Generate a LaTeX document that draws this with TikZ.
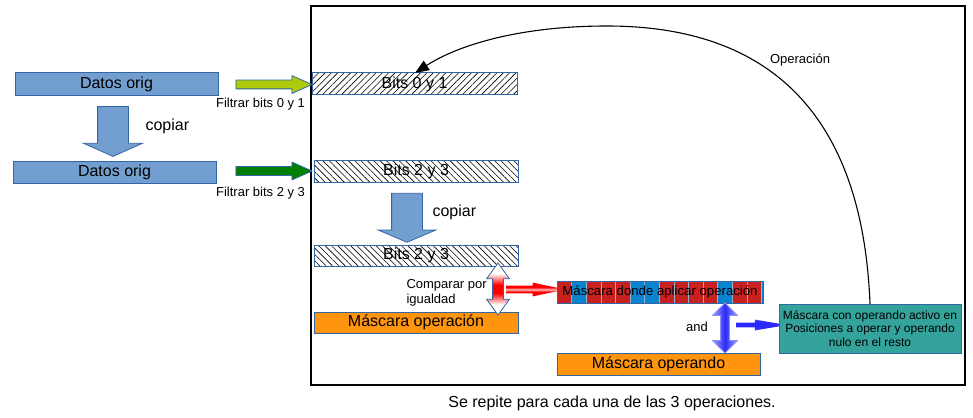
\documentclass[tikz,border=0pt]{standalone}
\usepackage{fontspec}
\setmainfont{Liberation Sans}
\usetikzlibrary{arrows.meta,patterns.meta,shapes.arrows}

\definecolor{azulcaja}{HTML}{729FCF}
\definecolor{azulborde}{HTML}{3465A4}
\definecolor{verdeclaro}{HTML}{AECB0A}
\definecolor{verdeosc}{HTML}{007F00}
\definecolor{naranja}{HTML}{FF950E}
\definecolor{rojomasc}{HTML}{C9211E}
\definecolor{azulmasc}{HTML}{0A84CF}
\definecolor{turquesa}{HTML}{33A39C}
\definecolor{azulflecha}{HTML}{2A2AFF}
\definecolor{azulclaro}{HTML}{8C8CF5}

% la caja del camino va de 25bp a 75bp
\pgfdeclareverticalshading{blancorojo}{100bp}{color(0bp)=(white); color(35bp)=(white); color(46bp)=(red); color(54bp)=(red); color(65bp)=(white); color(100bp)=(white)}
\pgfdeclareverticalshading{rojobrillo}{100bp}{color(0bp)=(red); color(42bp)=(red); color(50bp)=(red!25); color(58bp)=(red); color(100bp)=(red)}
\pgfdeclarehorizontalshading{azulcentro}{100bp}{color(0bp)=(azulclaro); color(30bp)=(azulclaro); color(50bp)=(azulflecha); color(70bp)=(azulclaro); color(100bp)=(azulclaro)}
\pgfdeclareverticalshading{azulbrillo}{100bp}{color(0bp)=(azulclaro); color(35bp)=(azulflecha); color(65bp)=(azulflecha); color(100bp)=(azulclaro)}

\tikzset{
  caja/.style={draw=azulborde, line width=1pt, inner sep=0pt, outer sep=0pt},
  letragr/.style={font=\fontsize{16}{19}\selectfont},
  letrapq/.style={font=\fontsize{13}{15}\selectfont},
  bloque/.style={single arrow, outer sep=0pt, line width=0.8pt},
  doble/.style={double arrow, outer sep=0pt, line width=0.8pt},
}

\begin{document}
\begin{tikzpicture}[x=1pt, y=-1pt]
\useasboundingbox (0,0) rectangle (973,417);
% marco
\draw[line width=2pt] (311,6) rectangle (965,385);
% datos originales
\node[caja, fill=azulcaja, minimum width=203pt, minimum height=23pt, letragr] (datos1) at (116.5,84.5) {Datos orig};
\node[caja, fill=azulcaja, minimum width=203pt, minimum height=22pt, letragr] (datos2) at (114.5,172) {Datos orig};
\node[bloque, shape border rotate=270, draw=azulborde, fill=azulcaja, inner sep=15pt, minimum height=50pt, single arrow head extend=14pt, single arrow tip angle=132] (copia1) at (113,128) {};
\node[letragr, anchor=west] (txtcopia1) at (142,126) {copiar};
% filtros
\node[bloque, draw=azulborde, fill=verdeclaro, inner sep=4pt, minimum height=76pt, single arrow head extend=4.5pt, single arrow tip angle=48] (filtro1) at (269,84.5) {};
\node[bloque, draw=azulborde, fill=verdeosc, inner sep=4pt, minimum height=76pt, single arrow head extend=4.5pt, single arrow tip angle=48] (filtro2) at (269,171) {};
\node[letrapq, anchor=east] (txtfiltro1) at (308.5,104) {Filtrar bits 0 y 1};
\node[letrapq, anchor=east] (txtfiltro2) at (308.5,193) {Filtrar bits 2 y 3};
% bits filtrados
\node[caja, pattern={Lines[angle=45,distance=4.5pt,line width=0.6pt]}, minimum width=205pt, minimum height=22pt, letragr] (bits01) at (414.5,84) {Bits 0 y 1};
\node[caja, pattern={Lines[angle=-45,distance=4.5pt,line width=0.6pt]}, minimum width=204pt, minimum height=22pt, letragr] (bits23) at (416,171) {Bits 2 y 3};
\node[bloque, shape border rotate=270, draw=azulborde, fill=azulcaja, inner sep=15pt, minimum height=49pt, single arrow head extend=13.5pt, single arrow tip angle=134] (copia2) at (407,214.5) {};
\node[letragr, anchor=west] (txtcopia2) at (429,212) {copiar};
\node[caja, pattern={Lines[angle=-45,distance=4.5pt,line width=0.6pt]}, minimum width=204pt, minimum height=21pt, letragr] (bits23b) at (416,255.5) {Bits 2 y 3};
\node[caja, fill=naranja, minimum width=204pt, minimum height=21pt, letragr] (mascop) at (416,322.5) {Máscara operación};
% comparar
\node[doble, shape border rotate=90, draw=azulborde, shading=blancorojo, inner sep=5pt, minimum height=52pt, double arrow head extend=6pt, double arrow tip angle=72] (compara) at (498,289) {};
\node[bloque, draw=none, shading=rojobrillo, inner sep=3.5pt, minimum height=59pt, single arrow head extend=3pt, single arrow tip angle=24] (haciamasc) at (526.5,289.5) {};
\node[letrapq, anchor=west, align=left] (txtcompara) at (403,293) {Comparar por\\igualdad};
% mascara donde aplicar
\fill[azulmasc] (557,281) rectangle (763,303);
\foreach \col [count=\i from 0] in {rojomasc,azulmasc,rojomasc,rojomasc,rojomasc,azulmasc,azulmasc,rojomasc,rojomasc,rojomasc,rojomasc,azulmasc,rojomasc,rojomasc}
  \filldraw[fill=\col, draw=azulborde!50, line width=0.4pt] ({557+14.6*\i},281) rectangle ({557+14.6*(\i+1)},303);
\node[caja, minimum width=206pt, minimum height=22pt, font=\fontsize{13.2}{15}\selectfont] (mascdonde) at (660,292) {Máscara donde aplicar operación};
% and
\node[doble, shape border rotate=90, draw=azulclaro, shading=azulcentro, inner sep=4pt, minimum height=50pt, double arrow head extend=8pt, double arrow tip angle=90] (opand) at (725,328) {};
\node[bloque, draw=none, shading=azulbrillo, inner sep=2pt, minimum height=51pt, single arrow head extend=3pt, single arrow tip angle=19] (haciares) at (754.5,325) {};
\node[letrapq] (txtand) at (697,327) {and};
\node[caja, fill=naranja, minimum width=203pt, minimum height=22pt, letragr] (mascoperando) at (658.5,364) {Máscara operando};
% resultado
\node[caja, fill=turquesa, minimum width=182pt, minimum height=49pt, align=center, font=\fontsize{12}{13.5}\selectfont] (resultado) at (870,328.5) {Máscara con operando activo en\\Posiciones a operar y operando\\nulo en el resto};
% vuelta
\coordinate (llegada) at (415,73);
\draw[line width=1.1pt, -{Triangle[length=14pt,width=11pt]}] (resultado.north) .. controls (864,150) and (800,26) .. (607,26) .. controls (520,26) and (458,45) .. (llegada);
\node[letrapq] (txtoper) at (800,60) {Operación};
\node[letragr] (pie) at (612,403) {Se repite para cada una de las 3 operaciones.};
\end{tikzpicture}
\end{document}
